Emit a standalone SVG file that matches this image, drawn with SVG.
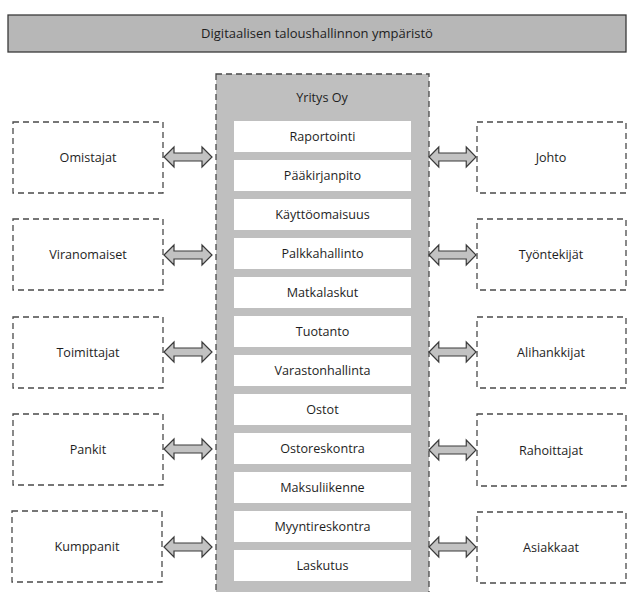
<svg xmlns="http://www.w3.org/2000/svg" xmlns:xlink="http://www.w3.org/1999/xlink" width="628" height="592" viewBox="0 0 628 592">
<style>
  text { font-family: "Open Sans", "Noto Sans", "Liberation Sans", sans-serif; font-size: 12.6px; fill: #1e1e1e; text-anchor: middle; dominant-baseline: central; }
  .dash { fill: #ffffff; stroke: #4a4a4a; stroke-width: 1.3; stroke-dasharray: 6 4; }
  .col { fill: #bfbfbf; stroke: #4a4a4a; stroke-width: 1.3; stroke-dasharray: 6 4; }
  .inner { fill: #ffffff; stroke: none; }
  .hdr { fill: #b7b7b7; stroke: #3a3a3a; stroke-width: 1.3; }
  .arrow { fill: #c2c2c2; stroke: #3a3a3a; stroke-width: 1.2; stroke-linejoin: miter; }
</style>
<defs>
  <path id="dbl" d="M0,0 L10,-10 L10,-4 L38,-4 L38,-10 L48,0 L38,10 L38,4 L10,4 L10,10 Z"/>
</defs>
<rect width="628" height="592" fill="#ffffff"/>

<g id="header">
  <rect class="hdr" x="8" y="15" width="618" height="37"/>
  <text x="317" y="33" style="font-size:13px">Digitaalisen taloushallinnon ympäristö</text>
</g>

<g id="yritys">
  <rect class="col" x="216" y="74" width="213" height="530"/>
  <text x="322" y="97">Yritys Oy</text>
  <g id="modules">
    <rect class="inner" x="234" y="121" width="177" height="31"/><text x="322.5" y="136.5">Raportointi</text>
    <rect class="inner" x="234" y="160" width="177" height="31"/><text x="322.5" y="175.5">Pääkirjanpito</text>
    <rect class="inner" x="234" y="199" width="177" height="31"/><text x="322.5" y="214.5">Käyttöomaisuus</text>
    <rect class="inner" x="234" y="238" width="177" height="31"/><text x="322.5" y="253.5">Palkkahallinto</text>
    <rect class="inner" x="234" y="277" width="177" height="31"/><text x="322.5" y="292.5">Matkalaskut</text>
    <rect class="inner" x="234" y="316" width="177" height="31"/><text x="322.5" y="331.5">Tuotanto</text>
    <rect class="inner" x="234" y="355" width="177" height="31"/><text x="322.5" y="370.5">Varastonhallinta</text>
    <rect class="inner" x="234" y="394" width="177" height="31"/><text x="322.5" y="409.5">Ostot</text>
    <rect class="inner" x="234" y="433" width="177" height="31"/><text x="322.5" y="448.5">Ostoreskontra</text>
    <rect class="inner" x="234" y="472" width="177" height="31"/><text x="322.5" y="487.5">Maksuliikenne</text>
    <rect class="inner" x="234" y="511" width="177" height="31"/><text x="322.5" y="526.5">Myyntireskontra</text>
    <rect class="inner" x="234" y="550" width="177" height="31"/><text x="322.5" y="565.5">Laskutus</text>
  </g>
</g>

<g id="omistajat"><rect class="dash" x="13" y="122" width="150" height="71"/><text x="88" y="157.5">Omistajat</text></g>
<g id="viranomaiset"><rect class="dash" x="13" y="219" width="150" height="71"/><text x="88" y="254.5">Viranomaiset</text></g>
<g id="toimittajat"><rect class="dash" x="13" y="317" width="150" height="71"/><text x="88" y="352.5">Toimittajat</text></g>
<g id="pankit"><rect class="dash" x="13" y="414" width="150" height="71"/><text x="88" y="449.5">Pankit</text></g>
<g id="kumppanit"><rect class="dash" x="12" y="511" width="150" height="71"/><text x="87" y="546.5">Kumppanit</text></g>

<g id="johto"><rect class="dash" x="477" y="122" width="149" height="71"/><text x="551" y="157.5">Johto</text></g>
<g id="tyontekijat"><rect class="dash" x="477" y="219" width="149" height="71"/><text x="551" y="254.5">Työntekijät</text></g>
<g id="alihankkijat"><rect class="dash" x="477" y="317" width="149" height="71"/><text x="551" y="352.5">Alihankkijat</text></g>
<g id="rahoittajat"><rect class="dash" x="477" y="414" width="149" height="72"/><text x="551" y="450">Rahoittajat</text></g>
<g id="asiakkaat"><rect class="dash" x="477" y="512" width="149" height="71"/><text x="551" y="547.5">Asiakkaat</text></g>

<g id="connectors">
  <use xlink:href="#dbl" class="arrow" transform="translate(164,157)"/>
  <use xlink:href="#dbl" class="arrow" transform="translate(164,255)"/>
  <use xlink:href="#dbl" class="arrow" transform="translate(164,352)"/>
  <use xlink:href="#dbl" class="arrow" transform="translate(164,449)"/>
  <use xlink:href="#dbl" class="arrow" transform="translate(164,547)"/>
  <use xlink:href="#dbl" class="arrow" transform="translate(429,157) scale(0.98,1)"/>
  <use xlink:href="#dbl" class="arrow" transform="translate(429,255) scale(0.98,1)"/>
  <use xlink:href="#dbl" class="arrow" transform="translate(429,352) scale(0.98,1)"/>
  <use xlink:href="#dbl" class="arrow" transform="translate(429,450) scale(0.98,1)"/>
  <use xlink:href="#dbl" class="arrow" transform="translate(429,547) scale(0.98,1)"/>
</g>
</svg>
